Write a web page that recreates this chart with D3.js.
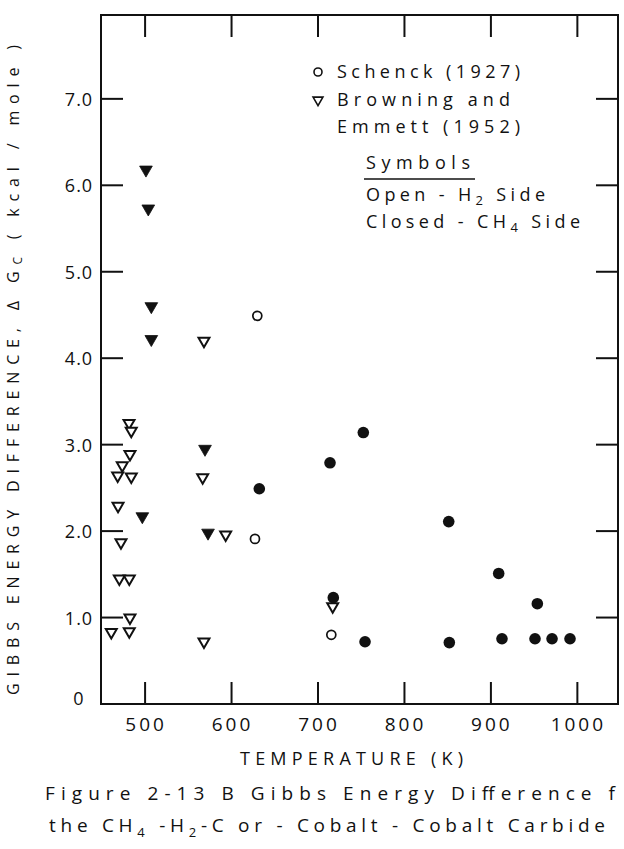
<!DOCTYPE html>
<html><head><meta charset="utf-8">
<script src="https://cdn.jsdelivr.net/npm/d3@7"></script>
<style>
html,body{margin:0;padding:0;background:#fff;}
svg{display:block;}
text{font-family:"Open Sans","DejaVu Sans",sans-serif;font-weight:400;fill:#111;}
</style></head>
<body>
<script>
// ---- data ----
const xTicks = [500, 600, 700, 800, 900, 1000];
const yTicks = [1, 2, 3, 4, 5, 6, 7];
const yTickLabels = ["0", "1.0", "2.0", "3.0", "4.0", "5.0", "6.0", "7.0"];

// Browning and Emmett (1952), closed = CH4 side
const bcT = [501, 503.7, 507.2, 507.2, 569.3, 496.8, 572.8];
const bcG = [6.18, 5.73, 4.60, 4.22, 2.95, 2.17, 1.98];
// Browning and Emmett (1952), open = H2 side
const boT = [568.1, 481.4, 484.0, 482.5, 473.6, 468.3, 484.0, 566.6, 468.7, 472.1, 593.2, 470.2, 481.7, 717.0, 482.5, 460.9, 481.7, 568.1];
const boG = [4.20, 3.25, 3.16, 2.89, 2.76, 2.64, 2.63, 2.62, 2.29, 1.87, 1.96, 1.45, 1.45, 1.13, 1.00, 0.83, 0.84, 0.72];
// Schenck (1927), open = H2 side
const soT = [629.8, 627.1, 715.4];
const soG = [4.49, 1.91, 0.80];
// Schenck (1927), closed = CH4 side
const scT = [752.4, 713.9, 632.1, 717.7, 754.4, 851.2, 909.0, 953.7, 851.9, 912.8, 951.0, 970.7, 991.5];
const scG = [3.14, 2.79, 2.49, 1.23, 0.72, 2.11, 1.51, 1.16, 0.71, 0.755, 0.755, 0.755, 0.755];

const W = 624, H = 849;
const L = 101, R = 618, T = 15, B = 704;
const svg = d3.select("body").append("svg").attr("width", W).attr("height", H);

const x = d3.scaleLinear().domain([449, 1047]).range([L, R]);
const y = d3.scaleLinear().domain([0, 7.97]).range([B, T]);

// frame
svg.append("rect").attr("x", L).attr("y", T).attr("width", R - L).attr("height", B - T)
  .attr("fill", "none").attr("stroke", "#111").attr("stroke-width", 2);

const TL = 22;
const g = svg.append("g").attr("stroke", "#111").attr("stroke-width", 2);
xTicks.forEach(v => {
  g.append("line").attr("x1", x(v)).attr("x2", x(v)).attr("y1", B).attr("y2", B - TL);
  g.append("line").attr("x1", x(v)).attr("x2", x(v)).attr("y1", T).attr("y2", T + TL);
});
yTicks.forEach(v => {
  g.append("line").attr("y1", y(v)).attr("y2", y(v)).attr("x1", L).attr("x2", L + TL);
  g.append("line").attr("y1", y(v)).attr("y2", y(v)).attr("x1", R).attr("x2", R - TL);
});

// tick labels
xTicks.forEach(v => {
  svg.append("text").attr("x", x(v) + 1).attr("y", 731).attr("text-anchor", "middle")
    .attr("font-size", 19).attr("letter-spacing", 3).text(v);
});
yTickLabels.forEach((t, i) => {
  svg.append("text").attr("x", 79).attr("y", (i === 0 ? y(0) - 6 : y(i)) + 7)
    .attr("text-anchor", "middle").attr("font-size", 18).attr("letter-spacing", 1).text(t);
});

// axis titles
svg.append("text").attr("x", 240).attr("y", 765).attr("textLength", 223).attr("lengthAdjust", "spacing")
  .attr("font-size", 18).text("TEMPERATURE (K)");

const yl = svg.append("text").attr("transform", "translate(19,695) rotate(-90)")
  .attr("textLength", 650).attr("lengthAdjust", "spacing").attr("font-size", 16);
yl.append("tspan").text("GIBBS ENERGY DIFFERENCE, Δ G");
yl.append("tspan").attr("font-size", 12).attr("dy", 3).text("C");
yl.append("tspan").attr("dy", -3).text(" ( kcal / mole )");

// caption
svg.append("text").attr("x", 45).attr("y", 800).attr("textLength", 570).attr("lengthAdjust", "spacing")
  .attr("font-size", 19).text("Figure 2-13 B Gibbs Energy Difference f");
const c2 = svg.append("text").attr("x", 49).attr("y", 832).attr("textLength", 556).attr("lengthAdjust", "spacing")
  .attr("font-size", 19);
c2.append("tspan").text("the CH");
c2.append("tspan").attr("font-size", 13).attr("dy", 5).text("4");
c2.append("tspan").attr("dy", -5).text(" -H");
c2.append("tspan").attr("font-size", 13).attr("dy", 5).text("2");
c2.append("tspan").attr("dy", -5).text("-C or - Cobalt - Cobalt Carbide");

// markers
const triDown = d3.symbol().type(d3.symbolTriangle);
function tri(T, G, filled) {
  svg.append("g").selectAll("path").data(T.map((t, i) => [t, G[i]])).join("path")
    .attr("d", triDown.size(filled ? 70 : 52)())
    .attr("transform", d => `translate(${x(d[0])},${y(d[1])}) rotate(180)`)
    .attr("fill", filled ? "#111" : "#fff")
    .attr("stroke", "#111").attr("stroke-width", filled ? 0.8 : 2).attr("stroke-linejoin", "miter");
}
function circ(T, G, filled) {
  svg.append("g").selectAll("circle").data(T.map((t, i) => [t, G[i]])).join("circle")
    .attr("cx", d => x(d[0])).attr("cy", d => y(d[1]))
    .attr("r", filled ? 5.8 : 4.5)
    .attr("fill", filled ? "#111" : "#fff")
    .attr("stroke", "#111").attr("stroke-width", filled ? 0 : 1.7);
}
tri(boT, boG, false);
tri(bcT, bcG, true);
circ(soT, soG, false);
circ(scT, scG, true);

// legend
const lg = svg.append("g");
lg.append("circle").attr("cx", 318).attr("cy", 72).attr("r", 4).attr("fill", "#fff")
  .attr("stroke", "#111").attr("stroke-width", 1.6);
lg.append("path").attr("d", d3.symbol().type(d3.symbolTriangle).size(42)())
  .attr("transform", "translate(318,100) rotate(180)").attr("fill", "#fff")
  .attr("stroke", "#111").attr("stroke-width", 1.6);
function lt(xp, yp, len, txt) {
  return lg.append("text").attr("x", xp).attr("y", yp).attr("font-size", 18)
    .attr("textLength", len).attr("lengthAdjust", "spacing").text(txt);
}
lt(337, 78, 183, "Schenck (1927)");
lt(337, 106, 173, "Browning and");
lt(337, 133, 183, "Emmett (1952)");
lt(366, 169, 104, "Symbols");
lg.append("line").attr("x1", 364).attr("x2", 475).attr("y1", 179).attr("y2", 179)
  .attr("stroke", "#111").attr("stroke-width", 1.6);
const o = lg.append("text").attr("x", 366).attr("y", 201).attr("font-size", 18)
  .attr("textLength", 179).attr("lengthAdjust", "spacing");
o.append("tspan").text("Open - H");
o.append("tspan").attr("font-size", 13).attr("dy", 4).text("2");
o.append("tspan").attr("dy", -4).text(" Side");
const cl = lg.append("text").attr("x", 366).attr("y", 228).attr("font-size", 18)
  .attr("textLength", 214).attr("lengthAdjust", "spacing");
cl.append("tspan").text("Closed - CH");
cl.append("tspan").attr("font-size", 13).attr("dy", 4).text("4");
cl.append("tspan").attr("dy", -4).text(" Side");
</script>
</body></html>
